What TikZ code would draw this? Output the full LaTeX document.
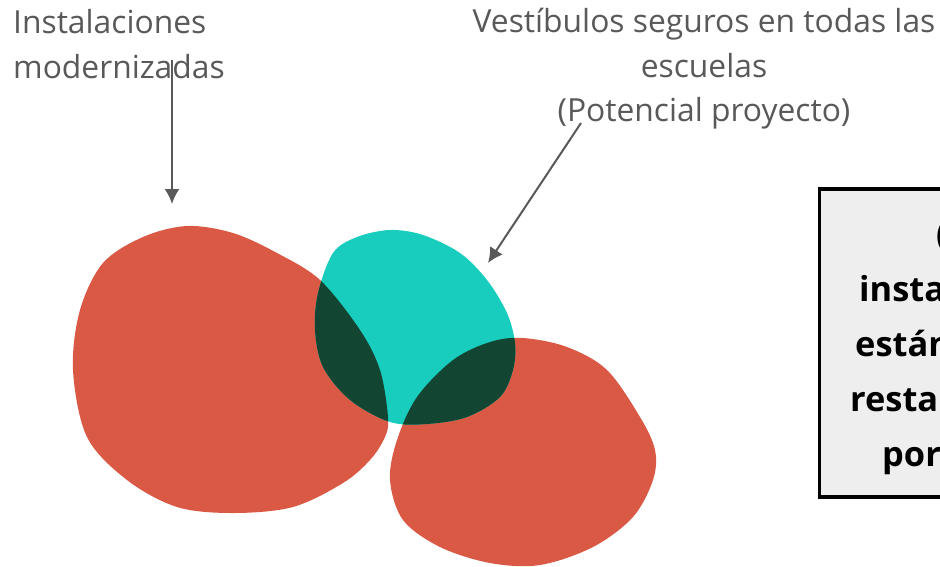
\documentclass[tikz,border=0pt]{standalone}
\usepackage{fontspec}
\setmainfont{Open Sans}
\definecolor{blobred}{RGB}{217,89,69}
\definecolor{blobteal}{RGB}{25,205,190}
\definecolor{blobdark}{RGB}{19,70,50}
\definecolor{labgray}{RGB}{89,89,89}
\definecolor{boxfill}{RGB}{238,238,238}
\tikzset{
  lab/.style={inner sep=0pt, anchor=base, text=labgray, font=\fontsize{31.8}{38}\selectfont},
  boxtxt/.style={inner sep=0pt, anchor=base west, text=black, font=\fontsize{34.4}{40}\selectfont\bfseries},
  pointer/.style={draw=labgray, line width=2pt, -{Latex[length=15pt,width=15pt]}},
  infobox/.style={draw=black, line width=3.5pt, fill=boxfill, inner sep=0pt, anchor=north west}
}
\usetikzlibrary{arrows.meta}
\begin{document}
\begin{tikzpicture}[x=1pt,y=-1pt]
\useasboundingbox (0,0) rectangle (940,566);
\clip (0,0) rectangle (940,566);
% blobs
\fill[blobred] plot[smooth cycle, tension=0.55] coordinates {
 (103,263) (143,237) (187,226) (233,233) (277,253) (320,280) (360,330) (380,370)
 (388,417) (385,437) (370,460) (343,483) (293,507) (233,513) (177,507) (127,480)
 (87,437) (73,370) (80,310)};
\fill[blobred] plot[smooth cycle, tension=0.55] coordinates {
 (523,338) (567,347) (607,370) (640,417) (655,450) (653,480) (633,517) (593,547)
 (540,565) (490,563) (440,547) (403,520) (390,480) (397,440) (417,397) (453,360) (490,342)};
\fill[blobteal] plot[smooth cycle, tension=0.55] coordinates {
 (333,253) (357,237) (390,230) (423,235) (460,253) (487,280) (507,313) (515,343)
 (513,370) (500,397) (467,417) (427,424) (390,422) (350,400) (323,367) (315,330) (318,293)};
\begin{scope}
\clip plot[smooth cycle, tension=0.55] coordinates {
 (333,253) (357,237) (390,230) (423,235) (460,253) (487,280) (507,313) (515,343)
 (513,370) (500,397) (467,417) (427,424) (390,422) (350,400) (323,367) (315,330) (318,293)};
\fill[blobdark] plot[smooth cycle, tension=0.55] coordinates {
 (103,263) (143,237) (187,226) (233,233) (277,253) (320,280) (360,330) (380,370)
 (388,417) (385,437) (370,460) (343,483) (293,507) (233,513) (177,507) (127,480)
 (87,437) (73,370) (80,310)};
\fill[blobdark] plot[smooth cycle, tension=0.55] coordinates {
 (523,338) (567,347) (607,370) (640,417) (655,450) (653,480) (633,517) (593,547)
 (540,565) (490,563) (440,547) (403,520) (390,480) (397,440) (417,397) (453,360) (490,342)};
\end{scope}
% labels
\node[lab, anchor=base west] (l1a) at (13,33) {Instalaciones};
\node[lab, anchor=base west] (l1b) at (13,78) {modernizadas};
\node[lab] (l2a) at (704,32) {Vestíbulos seguros en todas las};
\node[lab] (l2b) at (704,77) {escuelas};
\node[lab] (l2c) at (704,121) {(Potencial proyecto)};
% arrows
\coordinate (s1) at (172,60);
\coordinate (t1) at (172,204);
\coordinate (s2) at (581,123);
\coordinate (t2) at (488,263);
\draw[pointer] (s1) -- (t1);
\draw[pointer] (s2) -- (t2);
% box
\node[infobox, minimum width=400pt, minimum height=308pt] (box) at (817.5,187) {};
\node[boxtxt] (b1) at (936,246) {(Las};
\node[boxtxt] (b2) at (859,301) {instalaciones};
\node[boxtxt] (b3) at (855,356) {están};
\node[boxtxt] (b4) at (850,411) {restauradas};
\node[boxtxt] (b5) at (882,466) {por completo)};
\end{tikzpicture}
\end{document}
